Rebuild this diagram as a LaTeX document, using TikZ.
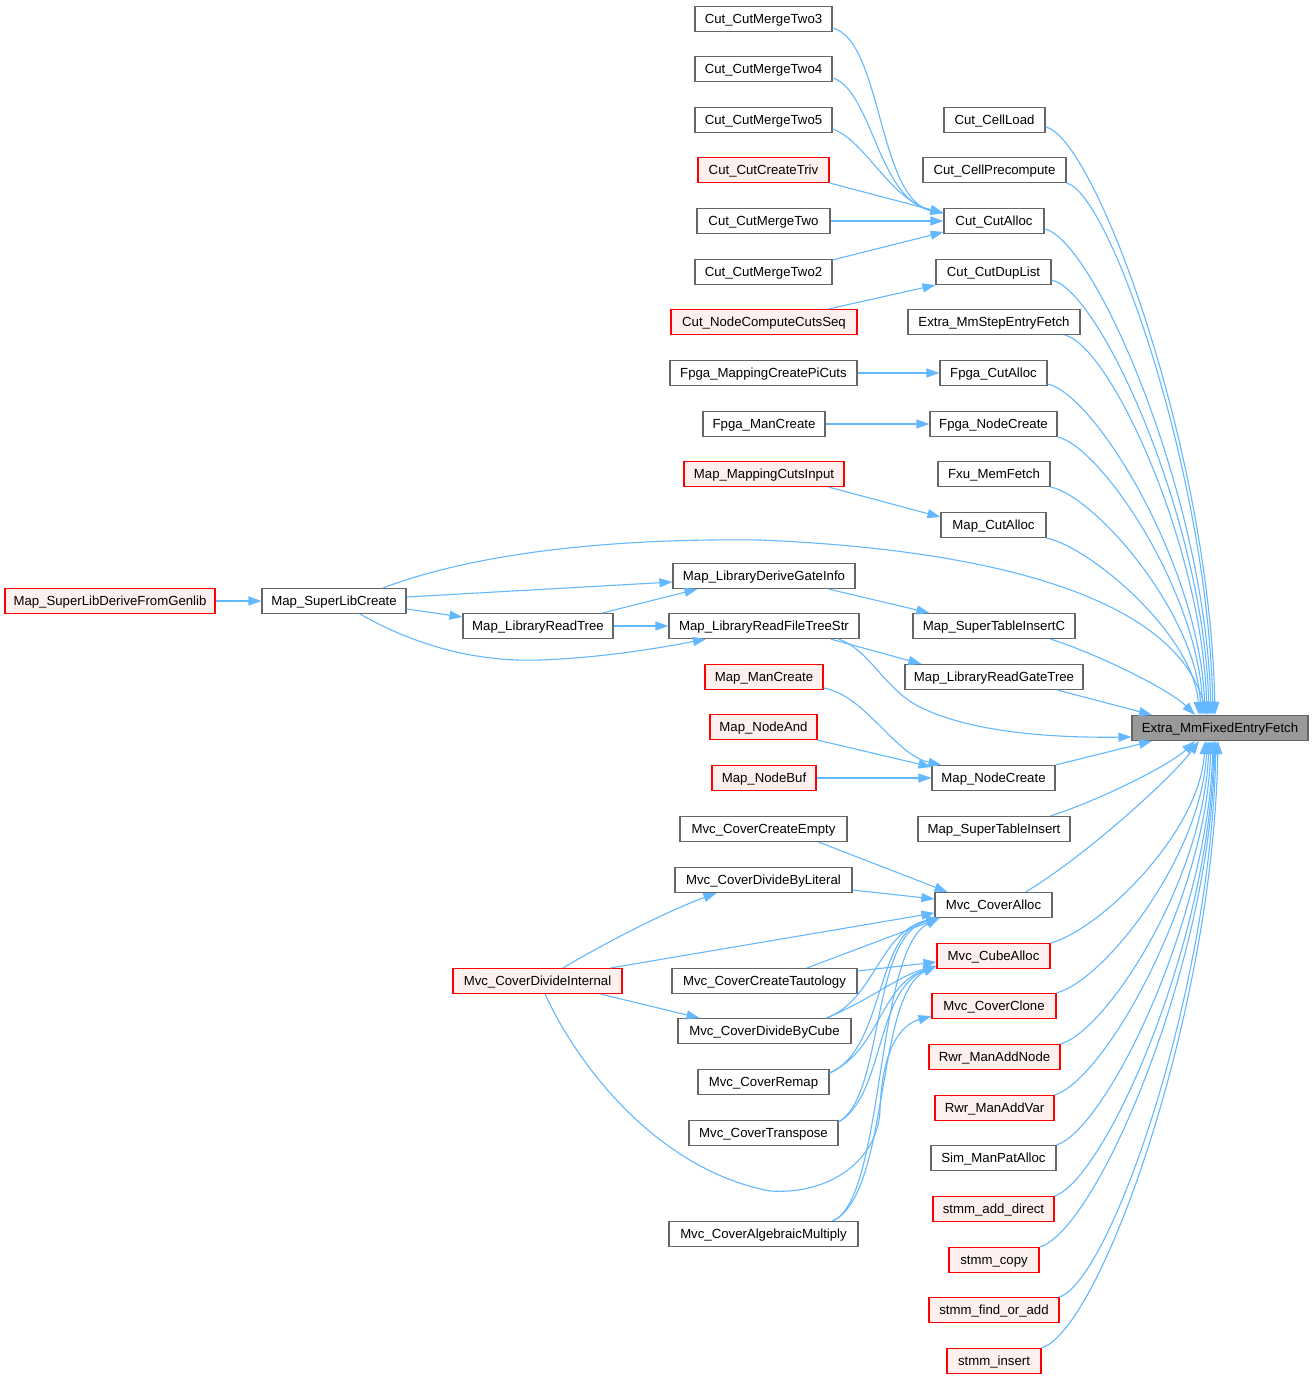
\documentclass[tikz,border=0pt]{standalone}
\usepackage{fontspec}
\setmainfont{Liberation Sans}
\usetikzlibrary{arrows.meta}
\definecolor{edgeblue}{HTML}{63B8FF}
\definecolor{nodegray}{HTML}{666666}
\definecolor{redfill}{HTML}{FFF0F0}
\definecolor{extfill}{HTML}{999999}
\definecolor{nodered}{HTML}{FF0000}
\begin{document}
\begin{tikzpicture}[x=1pt,y=-1pt,
 nb/.style={draw=nodegray, fill=white, line width=1.1pt, minimum height=25pt, inner sep=0pt, text height=11.4pt, text depth=2pt, font=\fontsize{13.2}{15}\selectfont},
 nr/.style={nb, draw=nodered, fill=redfill},
 ng/.style={nb, fill=extfill},
 cedge/.style={draw=edgeblue, line width=1.1pt, -{Triangle[length=13pt,width=9pt]}}]
\fill[white] (0,0) rectangle (1314,1380);
\useasboundingbox (0,0) rectangle (1314,1380);
% target
\node[ng, minimum width=176] (ext) at (1220,728) {Extra\_MmFixedEntryFetch};
% column 3
\node[nb, minimum width=101] (cl) at (994.5,120) {Cut\_CellLoad};
\node[nb, minimum width=143] (cp) at (994.5,170) {Cut\_CellPrecompute};
\node[nb, minimum width=100] (ca) at (994,221) {Cut\_CutAlloc};
\node[nb, minimum width=115] (cd) at (993.5,272) {Cut\_CutDupList};
\node[nb, minimum width=172] (ms) at (994,322) {Extra\_MmStepEntryFetch};
\node[nb, minimum width=107] (fca) at (993.5,373) {Fpga\_CutAlloc};
\node[nb, minimum width=127] (fnc) at (993.5,424) {Fpga\_NodeCreate};
\node[nb, minimum width=112] (fxu) at (994,474) {Fxu\_MemFetch};
\node[nb, minimum width=105] (mca) at (993.5,525) {Map\_CutAlloc};
\node[nb, minimum width=162] (stic) at (994,626) {Map\_SuperTableInsertC};
\node[nb, minimum width=178] (lrgt) at (994,677) {Map\_LibraryReadGateTree};
\node[nb, minimum width=123] (mnc) at (993.5,778) {Map\_NodeCreate};
\node[nb, minimum width=152] (sti) at (994,829) {Map\_SuperTableInsert};
\node[nb, minimum width=117] (mvca) at (993.5,905) {Mvc\_CoverAlloc};
\node[nr, minimum width=113] (mvcu) at (993.5,956) {Mvc\_CubeAlloc};
\node[nr, minimum width=124] (mvcc) at (994,1006) {Mvc\_CoverClone};
\node[nr, minimum width=131] (rwn) at (994.5,1057) {Rwr\_ManAddNode};
\node[nr, minimum width=119] (rwv) at (994.5,1108) {Rwr\_ManAddVar};
\node[nb, minimum width=125] (sim) at (993.5,1158) {Sim\_ManPatAlloc};
\node[nr, minimum width=121] (sad) at (993.5,1209) {stmm\_add\_direct};
\node[nr, minimum width=90] (scp) at (994,1260) {stmm\_copy};
\node[nr, minimum width=130] (sfa) at (994,1310) {stmm\_find\_or\_add};
\node[nr, minimum width=94] (sin) at (994,1361) {stmm\_insert};
% column 2
\node[nb, minimum width=137] (m3) at (763.5,19) {Cut\_CutMergeTwo3};
\node[nb, minimum width=137] (m4) at (763.5,69) {Cut\_CutMergeTwo4};
\node[nb, minimum width=137] (m5) at (763.5,120) {Cut\_CutMergeTwo5};
\node[nr, minimum width=131] (ctv) at (763.5,170) {Cut\_CutCreateTriv};
\node[nb, minimum width=133] (m1) at (763.5,221) {Cut\_CutMergeTwo};
\node[nb, minimum width=137] (m2) at (763.5,272) {Cut\_CutMergeTwo2};
\node[nr, minimum width=186] (ncs) at (764,322) {Cut\_NodeComputeCutsSeq};
\node[nb, minimum width=187] (fpc) at (763.5,373) {Fpga\_MappingCreatePiCuts};
\node[nb, minimum width=122] (fmc) at (764,424) {Fpga\_ManCreate};
\node[nr, minimum width=160] (mci) at (764,474) {Map\_MappingCutsInput};
\node[nb, minimum width=182] (ldg) at (764,576) {Map\_LibraryDeriveGateInfo};
\node[nb, minimum width=190] (lrf) at (764,626) {Map\_LibraryReadFileTreeStr};
\node[nr, minimum width=118] (mmc) at (764,677) {Map\_ManCreate};
\node[nr, minimum width=107] (mna) at (763.5,727) {Map\_NodeAnd};
\node[nr, minimum width=104] (mnb) at (764,778) {Map\_NodeBuf};
\node[nb, minimum width=167] (cce) at (763.5,829) {Mvc\_CoverCreateEmpty};
\node[nb, minimum width=177] (cdl) at (763.5,880) {Mvc\_CoverDivideByLiteral};
\node[nb, minimum width=185] (cct) at (764.5,981) {Mvc\_CoverCreateTautology};
\node[nb, minimum width=173] (cdc) at (764.5,1031) {Mvc\_CoverDivideByCube};
\node[nb, minimum width=131] (crm) at (763.5,1082) {Mvc\_CoverRemap};
\node[nb, minimum width=149] (ctr) at (763.5,1133) {Mvc\_CoverTranspose};
\node[nb, minimum width=189] (cam) at (763.5,1234) {Mvc\_CoverAlgebraicMultiply};
% column 1.5
\node[nb, minimum width=150] (lrt) at (538,626) {Map\_LibraryReadTree};
\node[nr, minimum width=169] (cdi) at (537.5,981) {Mvc\_CoverDivideInternal};
% columns 1 and 0
\node[nb, minimum width=144] (slc) at (334,601) {Map\_SuperLibCreate};
\node[nr, minimum width=210] (sldg) at (110,601) {Map\_SuperLibDeriveFromGenlib};

% ---- edges into Cut_CutAlloc etc.
\draw[cedge] ([yshift=-9pt]m3.east) .. controls (882,40) and (878,200) .. ([yshift=8pt]ca.west);
\draw[cedge] ([yshift=-9pt]m4.east) .. controls (872,90) and (878,200) .. ([yshift=8pt]ca.west);
\draw[cedge] ([yshift=-9pt]m5.east) .. controls (865,140) and (890,200) .. ([yshift=8pt]ca.west);
\draw[cedge] ([yshift=-13pt]ctv.east) -- ([yshift=8pt]ca.west);
\draw[cedge] (m1.east) -- (ca.west);
\draw[cedge] ([yshift=12pt]m2.east) -- ([yshift=-11pt]ca.west);
\draw[cedge] ([xshift=-29pt]ncs.north east) -- (cd.south west);
\draw[cedge] (fpc.east) -- (fca.west);
\draw[cedge] (fmc.east) -- (fnc.west);
\draw[cedge] ([xshift=-16pt]mci.south east) -- ([yshift=8pt]mca.west);
% ---- Map library
\draw[cedge] (sldg.east) -- (slc.west);
\draw[cedge] ([yshift=4pt]slc.east) -- ([yshift=-6pt]ldg.west);
\draw[cedge] ([yshift=-8pt]slc.east) -- ([yshift=9pt]lrt.west);
\draw[cedge] ([xshift=26pt]slc.south) .. controls (420,648) and (480,662) .. (540,660) .. controls (600,658) and (660,648) .. ([xshift=-58pt]lrf.south);
\draw[cedge] ([xshift=49pt]slc.north) .. controls (470,555) and (600,538) .. (760,540) .. controls (1000,550) and (1175,600) .. ([xshift=-13pt]ext.north);
\draw[cedge] ([xshift=-11pt]lrt.north east) -- ([xshift=25pt]ldg.south west);
\draw[cedge] (lrt.east) -- (lrf.west);
\draw[cedge] ([xshift=-27pt]ldg.south east) -- ([xshift=17pt]stic.north west);
\draw[cedge] ([xshift=-29pt]lrf.south east) -- ([xshift=17pt]lrgt.north west);
\draw[cedge] ([xshift=-21pt]lrf.south east) .. controls (870,650) and (885,690) .. (920,707) .. controls (970,732) and (1050,738) .. ([yshift=-9pt]ext.west);
\draw[cedge] ([yshift=-11pt]mmc.east) .. controls (865,695) and (895,755) .. ([xshift=10pt]mnc.north west);
\draw[cedge] (mna.south east) -- ([yshift=11pt]mnc.west);
\draw[cedge] (mnb.east) -- (mnc.west);
% ---- Mvc
\draw[cedge] ([xshift=-29pt]cce.south east) -- ([xshift=13pt]mvca.north west);
\draw[cedge] ([yshift=-10pt]cdl.east) -- ([yshift=6pt]mvca.west);
\draw[cedge] ([xshift=25.5pt]cdi.north) .. controls (610,940) and (670,910) .. ([xshift=42pt]cdl.south west);
\draw[cedge] ([xshift=-12pt]cdi.north east) -- ([yshift=-8pt]mvca.west);
\draw[cedge] ([xshift=-22pt]cdi.south east) -- ([xshift=22pt]cdc.north west);
\draw[cedge] ([xshift=7.5pt]cdi.south) .. controls (580,1070) and (660,1170) .. (770,1191) .. controls (830,1195) and (878,1160) .. (880,1110) .. controls (882,1050) and (900,1025) .. ([yshift=-10pt]mvcc.west);
\draw[cedge] ([xshift=42.5pt]cct.north) -- ([xshift=5pt]mvca.south west);
\draw[cedge] ([yshift=10pt]cct.east) -- ([yshift=-6pt]mvcu.west);
\draw[cedge] ([xshift=-25pt]cdc.north east) .. controls (875,1000) and (880,930) .. ([xshift=5pt]mvca.south west);
\draw[cedge] ([xshift=-25pt]cdc.north east) .. controls (870,1000) and (900,975) .. ([yshift=-10pt]mvcu.west);
\draw[cedge] ([yshift=9pt]crm.east) .. controls (885,1050) and (875,930) .. ([xshift=5pt]mvca.south west);
\draw[cedge] ([yshift=9pt]crm.east) .. controls (880,1050) and (880,985) .. ([yshift=-10pt]mvcu.west);
\draw[cedge] ([yshift=11pt]ctr.east) .. controls (885,1095) and (870,935) .. ([xshift=5pt]mvca.south west);
\draw[cedge] ([yshift=11pt]ctr.east) .. controls (885,1095) and (875,990) .. ([yshift=-10pt]mvcu.west);
\draw[cedge] ([xshift=-26pt]cam.north east) .. controls (885,1200) and (875,950) .. ([xshift=5pt]mvca.south west);
\draw[cedge] ([xshift=-26pt]cam.north east) .. controls (890,1195) and (875,995) .. ([yshift=-10pt]mvcu.west);
% ---- into Extra_MmFixedEntryFetch from above
\draw[cedge] ([yshift=-7pt]cl.east) .. controls (1095,137) and (1210,451) .. ([xshift=-5pt]ext.north);
\draw[cedge] (cp.south east) .. controls (1110,193) and (1208,476) .. ([xshift=-7pt]ext.north);
\draw[cedge] ([yshift=-8pt]ca.east) .. controls (1094,239) and (1206,497) .. ([xshift=-9pt]ext.north);
\draw[cedge] ([yshift=-8pt]cd.east) .. controls (1100,290) and (1204,520) .. ([xshift=-11pt]ext.north);
\draw[cedge] ([xshift=-16pt]ms.south east) .. controls (1110,345) and (1202,545) .. ([xshift=-13pt]ext.north);
\draw[cedge] ([yshift=-11pt]fca.east) .. controls (1095,394) and (1200,567) .. ([xshift=-15pt]ext.north);
\draw[cedge] (fnc.south east) .. controls (1100,446) and (1198,590) .. ([xshift=-17pt]ext.north);
\draw[cedge] (fxu.south east) .. controls (1095,496) and (1196,613) .. ([xshift=-19pt]ext.north);
\draw[cedge] (mca.south east) .. controls (1090,547) and (1194,635) .. ([xshift=-21pt]ext.north);
\draw[cedge] ([xshift=-25pt]stic.south east) .. controls (1100,655) and (1170,690) .. ([xshift=-25pt]ext.north);
\draw[cedge] ([xshift=-26pt]lrgt.south east) -- ([xshift=-68pt]ext.north);
% ---- into Extra_MmFixedEntryFetch from below
\draw[cedge] (mnc.north east) -- ([xshift=-68pt]ext.south);
\draw[cedge] ([xshift=-20pt]sti.north east) .. controls (1100,800) and (1170,765) .. ([xshift=-25pt]ext.south);
\draw[cedge] ([xshift=-27pt]mvca.north east) .. controls (1080,860) and (1170,780) .. ([xshift=-21pt]ext.south);
\draw[cedge] (mvcu.north east) .. controls (1100,930) and (1200,832) .. ([xshift=-15pt]ext.south);
\draw[cedge] (mvcc.north east) .. controls (1105,980) and (1202,855) .. ([xshift=-13pt]ext.south);
\draw[cedge] (rwn.north east) .. controls (1108,1030) and (1204,878) .. ([xshift=-11pt]ext.south);
\draw[cedge] (rwv.north east) .. controls (1104,1080) and (1206,901) .. ([xshift=-9pt]ext.south);
\draw[cedge] (sim.north east) .. controls (1105,1130) and (1208,923) .. ([xshift=-7pt]ext.south);
\draw[cedge] (sad.north east) .. controls (1104,1180) and (1209,946) .. ([xshift=-6pt]ext.south);
\draw[cedge] (scp.north east) .. controls (1095,1232) and (1210,969) .. ([xshift=-5pt]ext.south);
\draw[cedge] (sfa.north east) .. controls (1110,1280) and (1211,992) .. ([xshift=-4pt]ext.south);
\draw[cedge] (sin.north east) .. controls (1100,1330) and (1213,1015) .. ([xshift=-2pt]ext.south);
\end{tikzpicture}
\end{document}
